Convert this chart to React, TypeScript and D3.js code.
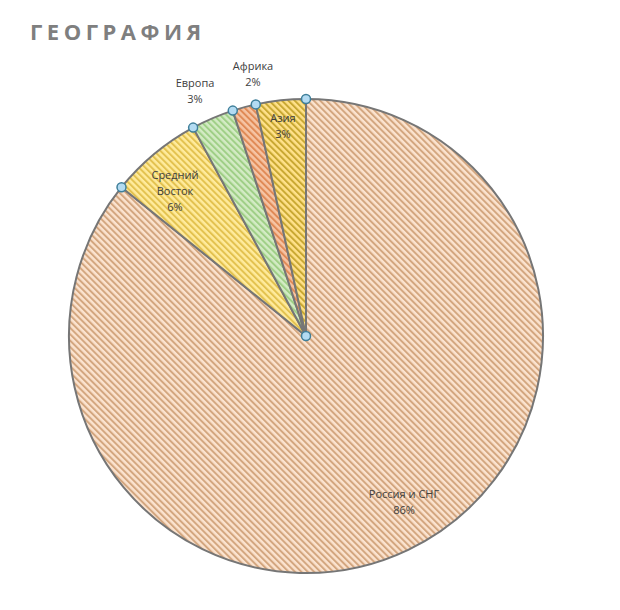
import React, { useEffect, useRef } from 'react';
import * as d3 from 'd3';

const regions = ['Россия и СНГ', 'Средний Восток', 'Европа', 'Африка', 'Азия'];
const shares = [85.8, 6.3, 2.9, 1.6, 3.4];
const labelLines = [['Россия и СНГ'], ['Средний', 'Восток'], ['Европа'], ['Африка'], ['Азия']];
const bgColors = ['#fbe3cf', '#ffeb9c', '#d3ebc4', '#f6c4a4', '#ffe18a'];
const stripeColors = ['#d3a67f', '#e3c24f', '#9fcf86', '#e08a56', '#c9a832'];

export default function App() {
  const svgRef = useRef<SVGSVGElement>(null);

  useEffect(() => {
    if (!svgRef.current) return;
    const svg = d3.select(svgRef.current);
    svg.selectAll('*').remove();

    const width = 620;
    const height = 610;
    const cx = 306;
    const cy = 336;
    const radius = 237;

    svg.attr('width', width).attr('height', height);

    // hatch patterns
    const defs = svg.append('defs');
    regions.forEach((_, i) => {
      const p = defs
        .append('pattern')
        .attr('id', `hatch${i}`)
        .attr('patternUnits', 'userSpaceOnUse')
        .attr('width', 4.5)
        .attr('height', 4.5)
        .attr('patternTransform', 'rotate(-45)');
      p.append('rect').attr('width', 4.5).attr('height', 4.5).attr('fill', bgColors[i]);
      p.append('rect').attr('width', 2).attr('height', 4.5).attr('fill', stripeColors[i]);
    });

    // title
    svg
      .append('text')
      .attr('x', 30)
      .attr('y', 40)
      .attr('fill', '#7f7f7f')
      .attr('font-family', '"Open Sans", "DejaVu Sans", sans-serif')
      .attr('font-weight', 'bold')
      .attr('font-size', '22px')
      .attr('letter-spacing', '4.5px')
      .text('ГЕОГРАФИЯ');

    const pie = d3.pie<number>().sort(null).value((d) => d);
    const arcs = pie(shares);
    const arc = d3.arc<d3.PieArcDatum<number>>().innerRadius(0).outerRadius(radius);

    const g = svg.append('g').attr('transform', `translate(${cx},${cy})`);

    g.selectAll('path.slice')
      .data(arcs)
      .enter()
      .append('path')
      .attr('class', 'slice')
      .attr('d', arc)
      .attr('fill', (_, i) => `url(#hatch${i})`)
      .attr('stroke', '#767676')
      .attr('stroke-width', 2)
      .attr('stroke-linejoin', 'round');

    // markers at slice boundaries
    const pts: [number, number][] = [[0, 0]];
    arcs.forEach((a) => {
      pts.push([radius * Math.sin(a.startAngle), -radius * Math.cos(a.startAngle)]);
    });
    g.selectAll('circle.marker')
      .data(pts)
      .enter()
      .append('circle')
      .attr('class', 'marker')
      .attr('cx', (d) => d[0])
      .attr('cy', (d) => d[1])
      .attr('r', 4.5)
      .attr('fill', '#b3dbf2')
      .attr('stroke', '#3f7f9a')
      .attr('stroke-width', 1.5);

    // labels
    const labelPos: [number, number][] = [
      [98, 162],
      [-131, -157],
      [-111, -249],
      [-53, -266],
      [-23, -214],
    ];
    const lineH = 16;
    arcs.forEach((a, i) => {
      const lines = [...labelLines[i], `${Math.round(a.data)}%`];
      const t = g
        .append('text')
        .attr('text-anchor', 'middle')
        .attr('fill', '#404040')
        .attr('font-family', '"Open Sans", "DejaVu Sans", sans-serif')
        .attr('font-size', '11px');
      lines.forEach((l, j) => {
        t.append('tspan')
          .attr('x', labelPos[i][0])
          .attr('y', labelPos[i][1] + j * lineH)
          .text(l);
      });
    });
  }, []);

  return <svg ref={svgRef} style={{ position: 'absolute', left: 0, top: 0 }}></svg>;
}
